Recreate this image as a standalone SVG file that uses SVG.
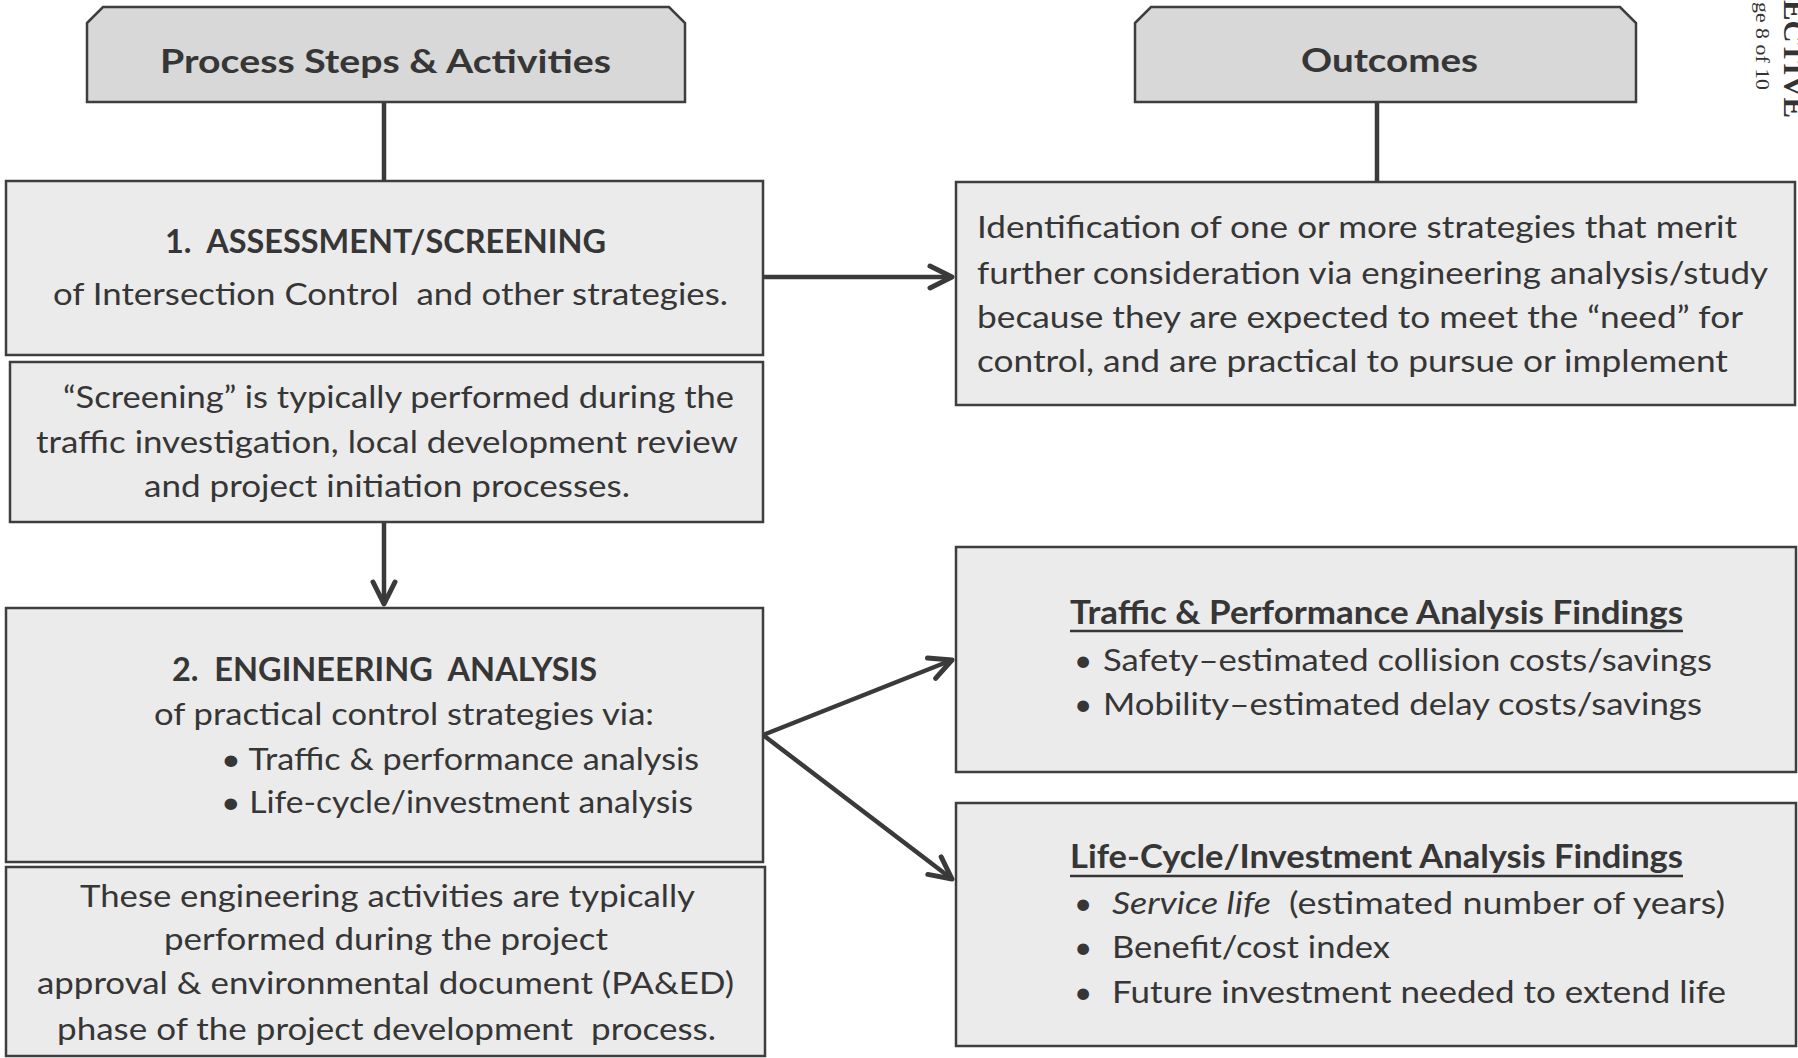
<svg xmlns="http://www.w3.org/2000/svg" width="1798" height="1058" viewBox="0 0 1798 1058">
<style>
.box{fill:#ebebeb;stroke:#3e3e3e;stroke-width:2.5}
.hdr{fill:#d8d8d8;stroke:#3e3e3e;stroke-width:2.5}
.t{font-family:Lato,"Open Sans","Liberation Sans",sans-serif;fill:#363636;font-size:31.5px}
.b{font-weight:bold}
.i{font-style:italic}
.con{stroke:#3a3a3a;stroke-width:4.5;fill:none}
.scan{font-family:"Liberation Serif","DejaVu Serif",serif;fill:#333}
</style>
<defs>
<marker id="arr" viewBox="-28 -15 32 30" refX="0" refY="0" markerWidth="32" markerHeight="30" markerUnits="userSpaceOnUse" orient="auto">
<path d="M-22,-11 L0,0 L-22,11" fill="none" stroke="#3a3a3a" stroke-width="5" stroke-linecap="round" stroke-linejoin="round"/>
</marker>
</defs>
<rect width="1798" height="1058" fill="#ffffff"/>

<g id="connectors">
<line class="con" x1="384" y1="102" x2="384" y2="181"/>
<line class="con" x1="1377" y1="102" x2="1377" y2="182"/>
<line class="con" x1="763" y1="277" x2="952" y2="277" marker-end="url(#arr)"/>
<line class="con" x1="384" y1="522" x2="384" y2="604" marker-end="url(#arr)"/>
<line class="con" x1="763" y1="735" x2="952" y2="660" marker-end="url(#arr)"/>
<line class="con" x1="763" y1="735" x2="952" y2="879" marker-end="url(#arr)"/>
</g>

<g id="header-process">
<path class="hdr" d="M87,23 L103,7 L669,7 L685,23 L685,102 L87,102 Z"/>
<text class="t b" x="160" y="73" font-size="34" textLength="451" lengthAdjust="spacingAndGlyphs">Process Steps &amp; Activities</text>
</g>

<g id="header-outcomes">
<path class="hdr" d="M1135,23 L1151,7 L1620,7 L1636,23 L1636,102 L1135,102 Z"/>
<text class="t b" x="1301" y="72" font-size="34" textLength="177" lengthAdjust="spacingAndGlyphs">Outcomes</text>
</g>

<g id="step1">
<rect class="box" x="6" y="181" width="757" height="174"/>
<text class="t b" x="165" y="253" font-size="30" textLength="441" lengthAdjust="spacingAndGlyphs" xml:space="preserve">1.  ASSESSMENT/SCREENING</text>
<text class="t" x="53" y="305" textLength="675" lengthAdjust="spacingAndGlyphs" xml:space="preserve">of Intersection Control  and other strategies.</text>
</g>

<g id="step1-note">
<rect class="box" x="10" y="362" width="753" height="160"/>
<text class="t" x="63" y="408" textLength="671" lengthAdjust="spacingAndGlyphs">“Screening” is typically performed during the</text>
<text class="t" x="36" y="453" textLength="702" lengthAdjust="spacingAndGlyphs">traffic investigation, local development review</text>
<text class="t" x="144" y="497" textLength="486" lengthAdjust="spacingAndGlyphs">and project initiation processes.</text>
</g>

<g id="step2">
<rect class="box" x="6" y="608" width="757" height="254"/>
<text class="t b" x="172" y="681" font-size="30" textLength="425" lengthAdjust="spacingAndGlyphs" xml:space="preserve">2.  ENGINEERING  ANALYSIS</text>
<text class="t" x="154" y="725" textLength="500" lengthAdjust="spacingAndGlyphs">of practical control strategies via:</text>
<text class="t" x="221" y="770" textLength="478" lengthAdjust="spacingAndGlyphs">• Traffic &amp; performance analysis</text>
<text class="t" x="221" y="813" textLength="472" lengthAdjust="spacingAndGlyphs">• Life-cycle/investment analysis</text>
</g>

<g id="step2-note">
<rect class="box" x="6" y="867" width="759" height="189"/>
<text class="t" x="80" y="907" textLength="615" lengthAdjust="spacingAndGlyphs">These engineering activities are typically</text>
<text class="t" x="164" y="950" textLength="444" lengthAdjust="spacingAndGlyphs">performed during the project</text>
<text class="t" x="37" y="994" textLength="697" lengthAdjust="spacingAndGlyphs">approval &amp; environmental document (PA&amp;ED)</text>
<text class="t" x="57" y="1040" textLength="659" lengthAdjust="spacingAndGlyphs" xml:space="preserve">phase of the project development  process.</text>
</g>

<g id="outcome1">
<rect class="box" x="956" y="182" width="839" height="223"/>
<text class="t" x="977" y="238" textLength="760" lengthAdjust="spacingAndGlyphs">Identification of one or more strategies that merit</text>
<text class="t" x="977" y="284" textLength="791" lengthAdjust="spacingAndGlyphs">further consideration via engineering analysis/study</text>
<text class="t" x="977" y="328" textLength="766" lengthAdjust="spacingAndGlyphs">because they are expected to meet the “need” for</text>
<text class="t" x="977" y="372" textLength="751" lengthAdjust="spacingAndGlyphs">control, and are practical to pursue or implement</text>
</g>

<g id="outcome-traffic">
<rect class="box" x="956" y="547" width="840" height="225"/>
<text class="t b" x="1070" y="624" font-size="30" textLength="613" lengthAdjust="spacingAndGlyphs">Traffic &amp; Performance Analysis Findings</text>
<line x1="1070" y1="631" x2="1683" y2="631" stroke="#363636" stroke-width="2.5"/>
<text class="t" x="1074" y="671">•</text>
<text class="t" x="1103" y="671" textLength="609" lengthAdjust="spacingAndGlyphs">Safety–estimated collision costs/savings</text>
<text class="t" x="1074" y="715">•</text>
<text class="t" x="1103" y="715" textLength="599" lengthAdjust="spacingAndGlyphs">Mobility–estimated delay costs/savings</text>
</g>

<g id="outcome-lifecycle">
<rect class="box" x="956" y="803" width="840" height="243"/>
<text class="t b" x="1070" y="868" font-size="30" textLength="613" lengthAdjust="spacingAndGlyphs">Life-Cycle/Investment Analysis Findings</text>
<line x1="1070" y1="876" x2="1683" y2="876" stroke="#363636" stroke-width="2.5"/>
<text class="t" x="1074" y="914">•</text>
<text class="t i" x="1112" y="914" textLength="159" lengthAdjust="spacingAndGlyphs">Service life</text>
<text class="t" x="1289" y="914" textLength="436" lengthAdjust="spacingAndGlyphs">(estimated number of years)</text>
<text class="t" x="1074" y="958">•</text>
<text class="t" x="1112" y="958" textLength="278" lengthAdjust="spacingAndGlyphs">Benefit/cost index</text>
<text class="t" x="1074" y="1003">•</text>
<text class="t" x="1112" y="1003" textLength="614" lengthAdjust="spacingAndGlyphs">Future investment needed to extend life</text>
</g>

<g id="scan-margin">
<text class="scan" font-size="19" transform="translate(1756,2) rotate(90)" textLength="88" lengthAdjust="spacingAndGlyphs">ge 8 of 10</text>
<text class="scan" font-size="30" font-weight="bold" transform="translate(1784,0) rotate(90)" textLength="118" lengthAdjust="spacingAndGlyphs">ECTIVE</text>
</g>
</svg>
